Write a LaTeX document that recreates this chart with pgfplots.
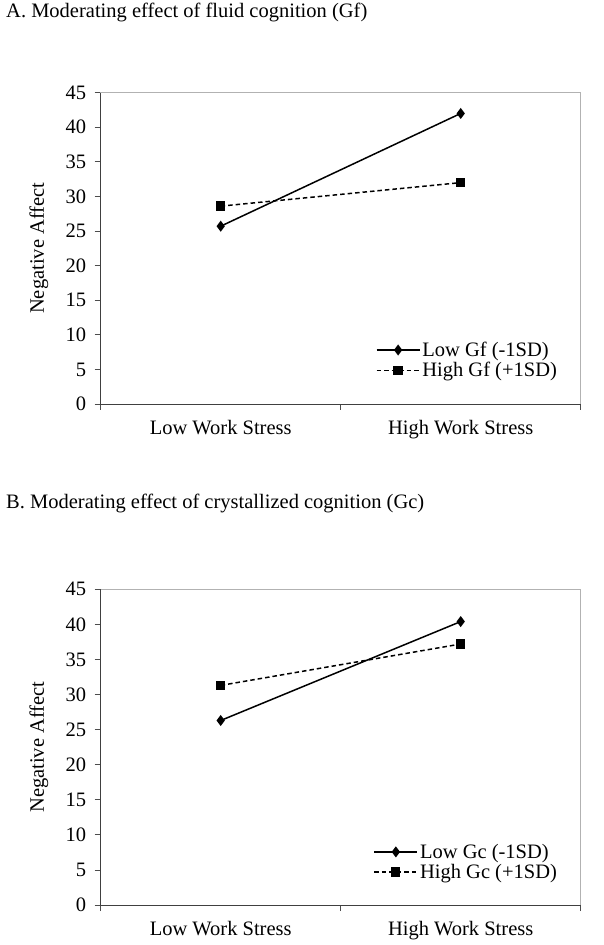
\documentclass[border=0pt]{standalone}
\usepackage{fontspec}
\setmainfont{Liberation Serif}
\usepackage{pgfplots}
\pgfplotsset{compat=1.18}
\pgfplotsset{
  mystyle/.style={
    scale only axis,
    width=480bp,
    xmin=0, xmax=2, ymin=0, ymax=45,
    ytick={0,5,...,45},
    xtick={0.5,1.5},
    xticklabels={Low Work Stress, High Work Stress},
    minor xtick={0,1,2},
    major x tick style={draw=none},
    xtick pos=bottom, ytick pos=left,
    tick align=outside,
    major tick length=6bp, minor tick length=6bp,
    tick style={black!70, line width=0.8bp},
    axis line style={draw=gray!60, line width=0.8bp},
    font=\fontsize{20.5bp}{22bp}\selectfont,
    /pgf/number format/assume math mode=true,
    ylabel={Negative Affect},
    ylabel style={at={(axis description cs:-0.129,0.5)}, anchor=center},
    xticklabel style={yshift=-7bp},
    yticklabel style={xshift=-5bp},
    legend cell align=left,
    legend style={draw=none, fill=none, anchor=north east, row sep=0.5bp,
      font=\fontsize{20.5bp}{21bp}\selectfont, inner sep=0pt},
    legend image code/.code={\draw[mark repeat=2,mark phase=2,##1] plot coordinates {(0bp,0bp) (21.5bp,0bp) (43bp,0bp)};},
    after end axis/.code={\draw[black!75, line width=0.8bp] (rel axis cs:0,1) -- (rel axis cs:0,0) -- (rel axis cs:1,0);},
  },
  lowstyle/.style={black, line width=1.5bp, mark=diamond*, mark size=4.3bp, mark options={solid}},
  highstyle/.style={black, line width=1.5bp, dash pattern=on 4.5bp off 3bp, mark=square*, mark size=3.9bp, mark options={solid}},
}
\begin{document}
\begin{tikzpicture}
\useasboundingbox (0,0) rectangle (604bp,945bp);
\node[anchor=base west, font=\fontsize{20.5bp}{22bp}\selectfont, inner sep=0pt] at (6bp,927bp) {A. Moderating effect of fluid cognition (Gf)};
\node[anchor=base west, font=\fontsize{20.5bp}{22bp}\selectfont, inner sep=0pt] at (6bp,436bp) {B. Moderating effect of crystallized cognition (Gc)};
\begin{axis}[mystyle, at={(100.7bp,541bp)}, anchor=south west, height=311.3bp,
  legend style={at={(axis description cs:0.955,0.206)}}]
\addplot[lowstyle] coordinates {(0.5,25.7) (1.5,42.0)};
\addlegendentry{Low Gf (-1SD)}
\addplot[highstyle] coordinates {(0.5,28.6) (1.5,32.0)};
\addlegendentry{High Gf (+1SD)}
\end{axis}
\begin{axis}[mystyle, at={(100.7bp,40bp)}, anchor=south west, height=315.7bp,
  legend style={at={(axis description cs:0.955,0.2)}}]
\addplot[lowstyle] coordinates {(0.5,26.3) (1.5,40.4)};
\addlegendentry{Low Gc (-1SD)}
\addplot[highstyle] coordinates {(0.5,31.3) (1.5,37.2)};
\addlegendentry{High Gc (+1SD)}
\end{axis}
\end{tikzpicture}
\end{document}
